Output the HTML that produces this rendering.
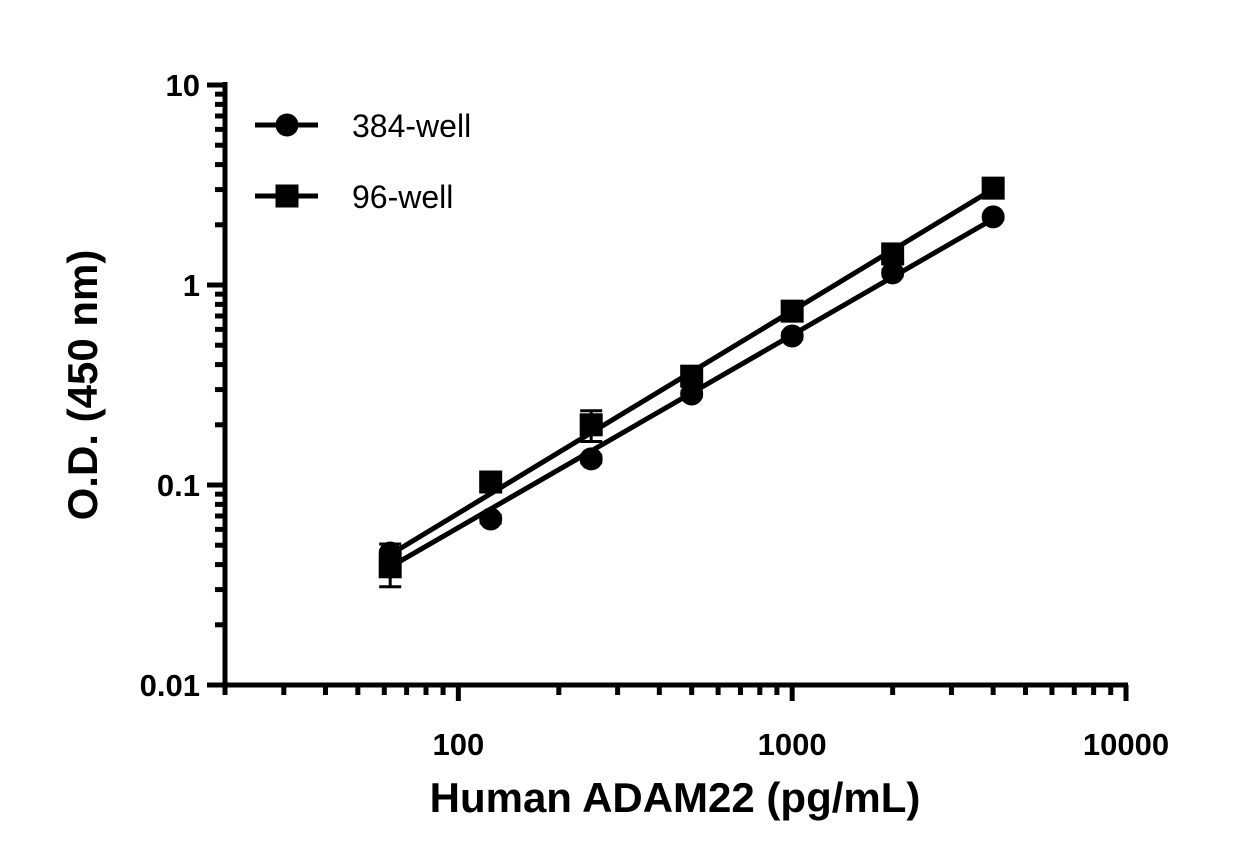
<!DOCTYPE html>
<html><head><meta charset="utf-8"><style>
body{margin:0;background:#fff;}
text{font-family:"Liberation Sans",Arial,sans-serif;font-weight:bold;fill:#000;}
</style></head><body>
<svg id="chart" width="1250" height="863" xmlns="http://www.w3.org/2000/svg"></svg>
<script>
const concentrations=[62.5,125,250,500,1000,2000,4000];
const od384=[0.0457,0.0676,0.135,0.285,0.556,1.15,2.19];
const err384=[0.005,0.003,0.006,0.01,0.02,0.04,0.06];
const od96=[0.039,0.1035,0.20,0.35,0.74,1.43,3.05];
const err96=[0.008,0.004,0.035,0.015,0.03,0.05,0.08];
const xTicks=[100,1000,10000];
const xTickLabels=["100","1000","10000"];
const yTicks=[0.01,0.1,1,10];
const yTickLabels=["0.01","0.1","1","10"];

const NS="http://www.w3.org/2000/svg";
const svg=document.getElementById('chart');
const X0=225,X1=1126,Y0=685,Y1=85;
const lx0=Math.log10(20),lx1=4,ly0=-2,ly1=1;
const xs=v=>X0+(Math.log10(v)-lx0)/(lx1-lx0)*(X1-X0);
const ys=v=>Y0-(Math.log10(v)-ly0)/(ly1-ly0)*(Y0-Y1);
function el(tag,attrs,parent){const e=document.createElementNS(NS,tag);for(const k in attrs)e.setAttribute(k,attrs[k]);(parent||svg).appendChild(e);return e;}

const axes=el('g',{});


el('line',{x1:X0,y1:Y1-3,x2:X0,y2:Y0+2.5,stroke:'#000','stroke-width':5},axes);
el('line',{x1:207,y1:Y0,x2:X1+2,y2:Y0,stroke:'#000','stroke-width':5},axes);
// y ticks
for(let d=-2;d<=1;d++){
  const t=el('line',{x1:207,y1:ys(Math.pow(10,d)),x2:X0,y2:ys(Math.pow(10,d)),stroke:'#000','stroke-width':5},axes);
  if(d<1)for(let m=2;m<=9;m++){const v=m*Math.pow(10,d);el('line',{x1:215,y1:ys(v),x2:X0,y2:ys(v),stroke:'#000','stroke-width':5},axes);}
}
yTicks.forEach((v,i)=>{const t=el('text',{x:200,y:ys(v)+11,'text-anchor':'end','font-size':31},axes);t.textContent=yTickLabels[i];
});
// x ticks
for(let d=1;d<=3;d++){for(let m=1;m<=9;m++){const v=m*Math.pow(10,d);if(v<20)continue;
  el('line',{x1:xs(v),y1:Y0,x2:xs(v),y2:m===1?701:695,stroke:'#000','stroke-width':5},axes);}}
el('line',{x1:xs(10000),y1:Y0,x2:xs(10000),y2:701,stroke:'#000','stroke-width':5},axes);
xTicks.forEach((v,i)=>{const t=el('text',{x:xs(v),y:755,'text-anchor':'middle','font-size':31},axes);t.textContent=xTickLabels[i];
});
const xt=el('text',{x:675,y:812,'text-anchor':'middle','font-size':42});xt.textContent='Human ADAM22 (pg/mL)';

const yt=el('text',{x:0,y:0,'text-anchor':'middle','font-size':42,transform:'translate(97,385) rotate(-90)'});yt.textContent='O.D. (450 nm)';


function fit(ys_){const lx=concentrations.map(Math.log10),ly=ys_.map(Math.log10);const n=lx.length;
 const mx=lx.reduce((a,b)=>a+b)/n,my=ly.reduce((a,b)=>a+b)/n;let sxy=0,sxx=0;
 for(let i=0;i<n;i++){sxy+=(lx[i]-mx)*(ly[i]-my);sxx+=(lx[i]-mx)**2;}const b=sxy/sxx;return x=>Math.pow(10,my+b*(Math.log10(x)-mx));}

function series(vals,errs,shape,name){
  const g=el('g',{});
  
  
  const f=fit(vals);const xa=concentrations[0],xb=concentrations[concentrations.length-1];
  el('line',{x1:xs(xa),y1:ys(f(xa)),x2:xs(xb),y2:ys(f(xb)),stroke:'#000','stroke-width':5},g);
  concentrations.forEach((c,i)=>{
    const x=xs(c),v=vals[i],e=errs[i];
    const yt=ys(v+e),yb=ys(Math.max(v-e,1e-4));
    el('line',{x1:x,y1:yt,x2:x,y2:yb,stroke:'#000','stroke-width':3},g);
    el('line',{x1:x-11,y1:yt,x2:x+11,y2:yt,stroke:'#000','stroke-width':3},g);
    el('line',{x1:x-11,y1:yb,x2:x+11,y2:yb,stroke:'#000','stroke-width':3},g);
    let m;
    if(shape==='circle')m=el('circle',{cx:x,cy:ys(v),r:11.5,fill:'#000'},g);
    else m=el('rect',{x:x-11.5,y:ys(v)-11.5,width:23,height:23,fill:'#000'},g);
    
    
  });
}
series(od384,err384,'circle','series-384-well');
series(od96,err96,'square','series-96-well');

const lg=el('g',{});


el('line',{x1:255,y1:125,x2:318,y2:125,stroke:'#000','stroke-width':5},lg);
el('circle',{cx:287,cy:125,r:11.5,fill:'#000'},lg);
let t1=el('text',{x:352,y:137,'font-size':32,style:'font-weight:normal'},lg);t1.textContent='384-well';

el('line',{x1:255,y1:196,x2:318,y2:196,stroke:'#000','stroke-width':5},lg);
el('rect',{x:275.5,y:184.5,width:23,height:23,fill:'#000'},lg);
let t2=el('text',{x:352,y:208,'font-size':32,style:'font-weight:normal'},lg);t2.textContent='96-well';

</script>
</body></html>
